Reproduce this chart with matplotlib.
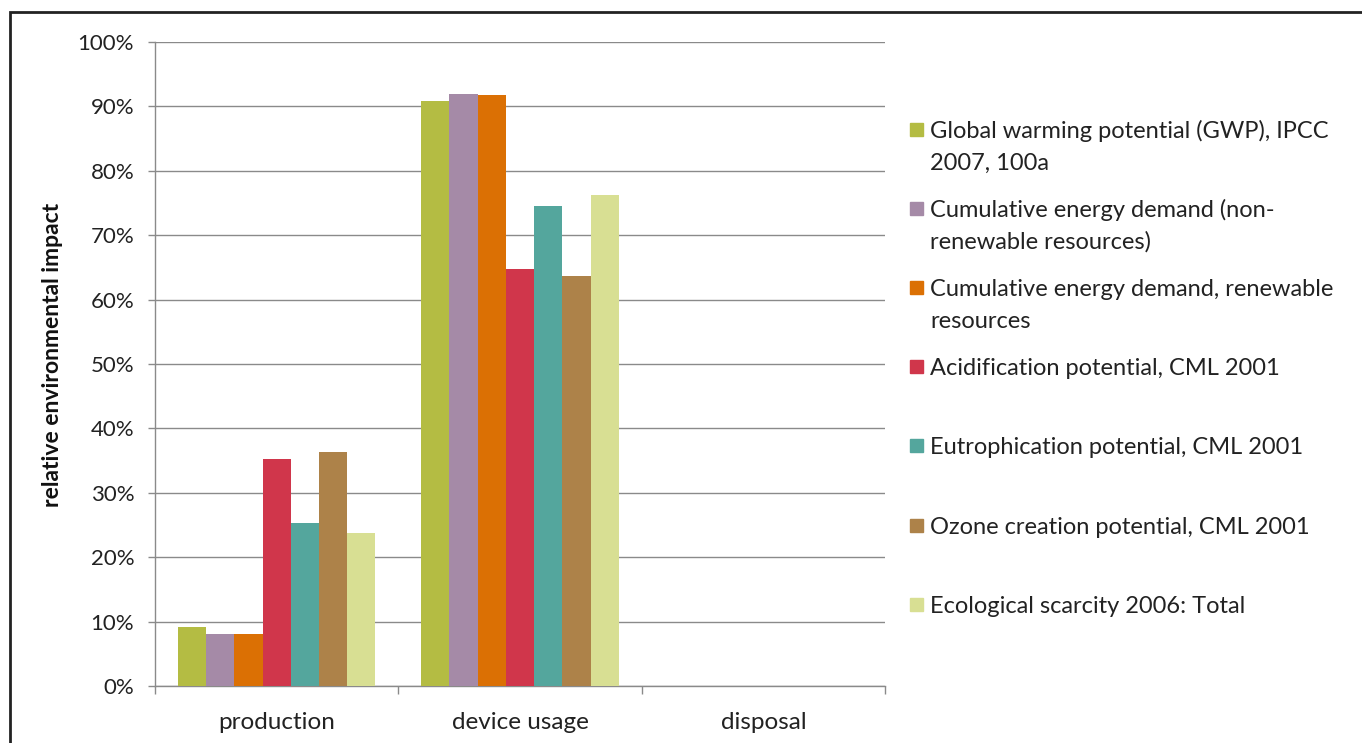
import matplotlib
matplotlib.use("Agg")
import matplotlib.pyplot as plt
import numpy as np
from matplotlib.patches import Rectangle
from matplotlib.ticker import PercentFormatter

# data (percent)
categories = ["production", "device usage", "disposal"]
series = [
    "Global warming potential (GWP), IPCC\n2007, 100a",
    "Cumulative energy demand (non-\nrenewable resources)",
    "Cumulative energy demand, renewable\nresources",
    "Acidification potential, CML 2001",
    "Eutrophication potential, CML 2001",
    "Ozone creation potential, CML 2001",
    "Ecological scarcity 2006: Total",
]
gwp = [9.1, 90.9, 0.0]
ced_nonren = [8.1, 92.0, 0.0]
ced_ren = [8.1, 91.8, 0.0]
acid = [35.2, 64.8, 0.0]
eutro = [25.3, 74.6, 0.0]
ozone = [36.4, 63.6, 0.0]
eco = [23.7, 76.3, 0.0]
values = [gwp, ced_nonren, ced_ren, acid, eutro, ozone, eco]
colors = ["#B4BC43", "#A58AA7", "#DB7004", "#D0364B", "#54A69D", "#AD8249", "#D8DF93"]

FONT = "Lato"
plt.rcParams["font.family"] = [FONT, "DejaVu Sans"]

W, H = 1362, 743
fig = plt.figure(figsize=(W / 100, H / 100), dpi=100)
ax = fig.add_axes([155 / W, 1 - 686 / H, 730 / W, 644 / H])

x = np.arange(len(categories)) + 0.5
bw = 0.116
n = len(values)
for i, (vals, c) in enumerate(zip(values, colors)):
    ax.bar(x + (i - (n - 1) / 2) * bw, vals, width=bw, color=c, zorder=3)

ax.set_xlim(0, 3)
ax.set_ylim(0, 100)
ax.set_yticks(np.arange(0, 101, 10))
ax.yaxis.set_major_formatter(PercentFormatter(decimals=0))
ax.grid(axis="y", color="#8a8a8a", linewidth=1.0, zorder=0)

ax.set_xticks([0, 1, 2, 3])
ax.set_xticklabels([])
ax.set_xticks(x, minor=True)
ax.set_xticklabels(categories, minor=True)
ax.tick_params(axis="x", which="minor", length=0, pad=19, labelsize=17.5, labelcolor="#222222")
ax.tick_params(axis="x", which="major", length=6, color="#8a8a8a", width=1)
ax.tick_params(axis="y", length=5, color="#8a8a8a", width=1, pad=10, labelsize=16,
               labelcolor="#222222")

for s in ["top", "right"]:
    ax.spines[s].set_visible(False)
for s in ["left", "bottom"]:
    ax.spines[s].set_color("#8a8a8a")
    ax.spines[s].set_linewidth(1)

fig.text(53 / W, 1 - 355 / H, "relative environmental impact", rotation=90,
         ha="center", va="center", fontsize=16.5, fontweight="bold", color="#111111")

# legend, built by hand so the marker sits on the first text line
for i, (label, c) in enumerate(zip(series, colors)):
    yc = 129 + 79.2 * i
    fig.patches.append(Rectangle((910 / W, 1 - (yc + 6.5) / H), 13 / W, 13 / H,
                                 transform=fig.transFigure, color=c))
    for k, line in enumerate(label.split("\n")):
        fig.text(930 / W, 1 - (yc + 32 * k) / H, line, ha="left", va="center_baseline",
                 fontsize=17, color="#222222")

# chart frame
fig.patches.append(Rectangle((10 / W, -0.05), 1.1, 1 - 12 / H + 0.05,
                             transform=fig.transFigure, fill=False,
                             edgecolor="#222222", linewidth=2))

fig.savefig("out.png", dpi=100)
